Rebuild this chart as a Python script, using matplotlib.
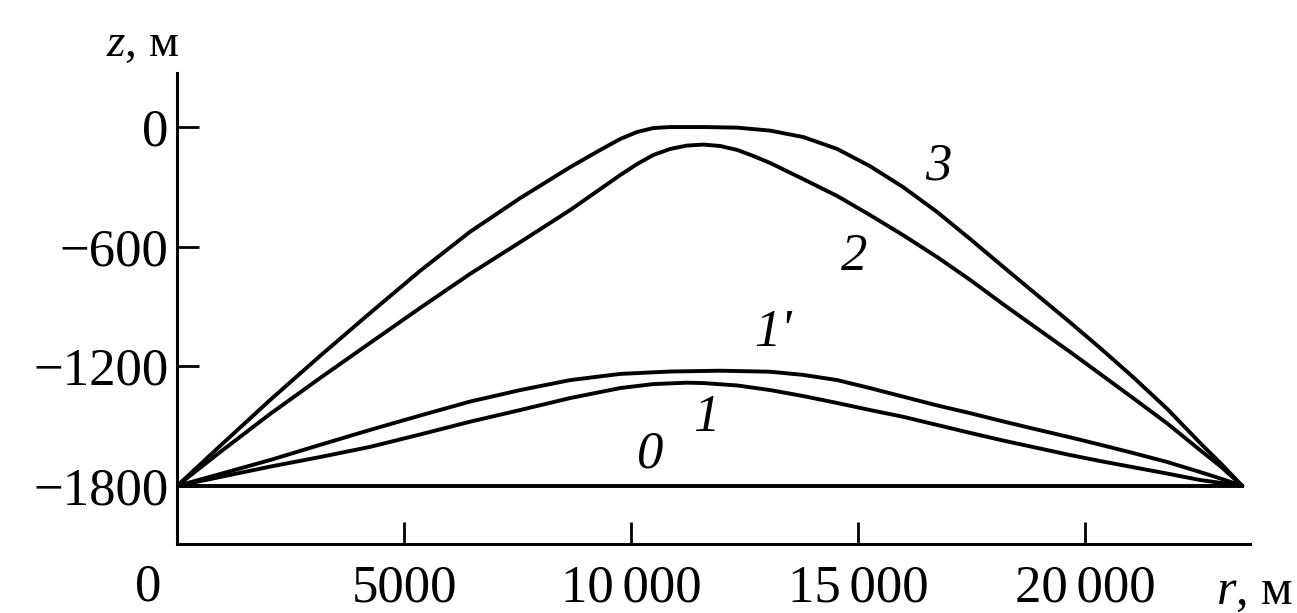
import matplotlib
matplotlib.use("Agg")
import matplotlib.pyplot as plt

# distance r, m and depth z, m
r_3 = [0, 950, 2050, 3150, 4250, 5350, 6450, 7560, 8660, 9320, 9760, 10130, 10490, 10860,
       11590, 12340, 13060, 13790, 14540, 15260, 15990, 16740, 17470, 18190, 18940, 19670,
       20330, 21060, 21810, 22530, 23000, 23460]
z_3 = [-1800, -1599, -1369, -1148, -933, -722, -526, -356, -201, -115, -60, -25, -5, 0,
       0, -3, -18, -50, -110, -196, -301, -426, -562, -700, -842, -980,
       -1108, -1255, -1414, -1584, -1690, -1800]

r_2 = [0, 950, 2050, 3150, 4250, 5350, 6450, 7560, 8660, 9320, 9760, 10130, 10490, 10860,
       11230, 11590, 11960, 12340, 12690, 13060, 13790, 14540, 15260, 15990, 16740, 17470,
       18190, 18940, 19670, 20330, 21060, 21810, 22530, 23000, 23460]
z_2 = [-1800, -1630, -1439, -1259, -1083, -908, -737, -577, -416, -311, -241, -186, -140, -110,
       -93, -88, -95, -115, -145, -180, -261, -346, -441, -542, -652, -767,
       -888, -1010, -1128, -1238, -1360, -1487, -1620, -1705, -1800]

r_1p = [0, 950, 2050, 3150, 4250, 5350, 6450, 7560, 8660, 9760, 10860, 11960, 13060, 13790,
        14540, 15260, 15990, 16740, 17470, 18190, 18940, 19670, 20330, 21060, 21810, 22530,
        23000, 23460]
z_1p = [-1800, -1740, -1670, -1594, -1519, -1447, -1377, -1319, -1269, -1238, -1226, -1222, -1227, -1243,
        -1269, -1309, -1352, -1396, -1435, -1476, -1517, -1556, -1593, -1635, -1680, -1730,
        -1764, -1800]

r_1 = [0, 950, 2050, 3150, 4250, 5350, 6450, 7560, 8660, 9760, 10490, 11230, 11590, 12340,
       13060, 13790, 14540, 15260, 15990, 16740, 17470, 18190, 18940, 19670, 20330, 21060,
       21810, 22530, 23000, 23460]
z_1 = [-1800, -1755, -1703, -1655, -1604, -1542, -1478, -1419, -1359, -1309, -1289, -1282, -1284, -1296,
       -1319, -1349, -1384, -1419, -1453, -1494, -1534, -1572, -1609, -1645, -1675, -1706,
       -1738, -1770, -1785, -1800]

r_0 = [0, 23460]
z_0 = [-1800, -1800]

curve_names = ["3", "2", "1'", "1", "0"]

x_ticks = [5000, 10000, 15000, 20000]
x_labels = ["5000", "10\u2006000", "15\u2006000", "20\u2006000"]
y_ticks = [0, -600, -1200, -1800]
y_labels = ["0", "\u2212600", "\u22121200", "\u22121800"]

plt.rcParams["font.family"] = ["Liberation Serif", "DejaVu Serif"]
plt.rcParams["mathtext.fontset"] = "custom"
plt.rcParams["mathtext.rm"] = "Liberation Serif"
plt.rcParams["mathtext.it"] = "Liberation Serif:italic"

W, H = 1297, 613
fig = plt.figure(figsize=(W / 100, H / 100), dpi=100)
ax = fig.add_axes([177 / W, 1 - 544 / H, 1073 / W, (544 - 73) / H])

for r, z in [(r_3, z_3), (r_2, z_2), (r_1p, z_1p), (r_1, z_1), (r_0, z_0)]:
    ax.plot(r, z, color="black", lw=2.8, solid_joinstyle="round", solid_capstyle="round")

ax.set_xlim(0, 23630)
ax.set_ylim(-2091, 271)

for side in ["top", "right"]:
    ax.spines[side].set_visible(False)
for side in ["left", "bottom"]:
    ax.spines[side].set_linewidth(2.2)

ax.set_xticks(x_ticks)
ax.set_xticklabels(x_labels)
ax.set_yticks(y_ticks)
ax.set_yticklabels(y_labels)
ax.tick_params(axis="both", direction="in", length=16, width=2, labelsize=38)
ax.tick_params(axis="x", pad=15)
ax.tick_params(axis="y", pad=6)

label_pos = [(16760, -196), (14910, -652), (13130, -1033), (11650, -1459), (10420, -1640)]
for name, (lr, lz) in zip(curve_names, label_pos):
    ax.text(lr, lz, name, fontsize=38, style="italic", ha="center", va="center")

ax.text(-640, -2311, "0", fontsize=38, ha="center", va="center", clip_on=False)
ax.text(-750, 411, "$z$, м", fontsize=34, ha="center", va="center", clip_on=False)
ax.text(23720, -2330, "$r$, м", fontsize=36, ha="center", va="center", clip_on=False)

fig.savefig("out.png", dpi=100)
